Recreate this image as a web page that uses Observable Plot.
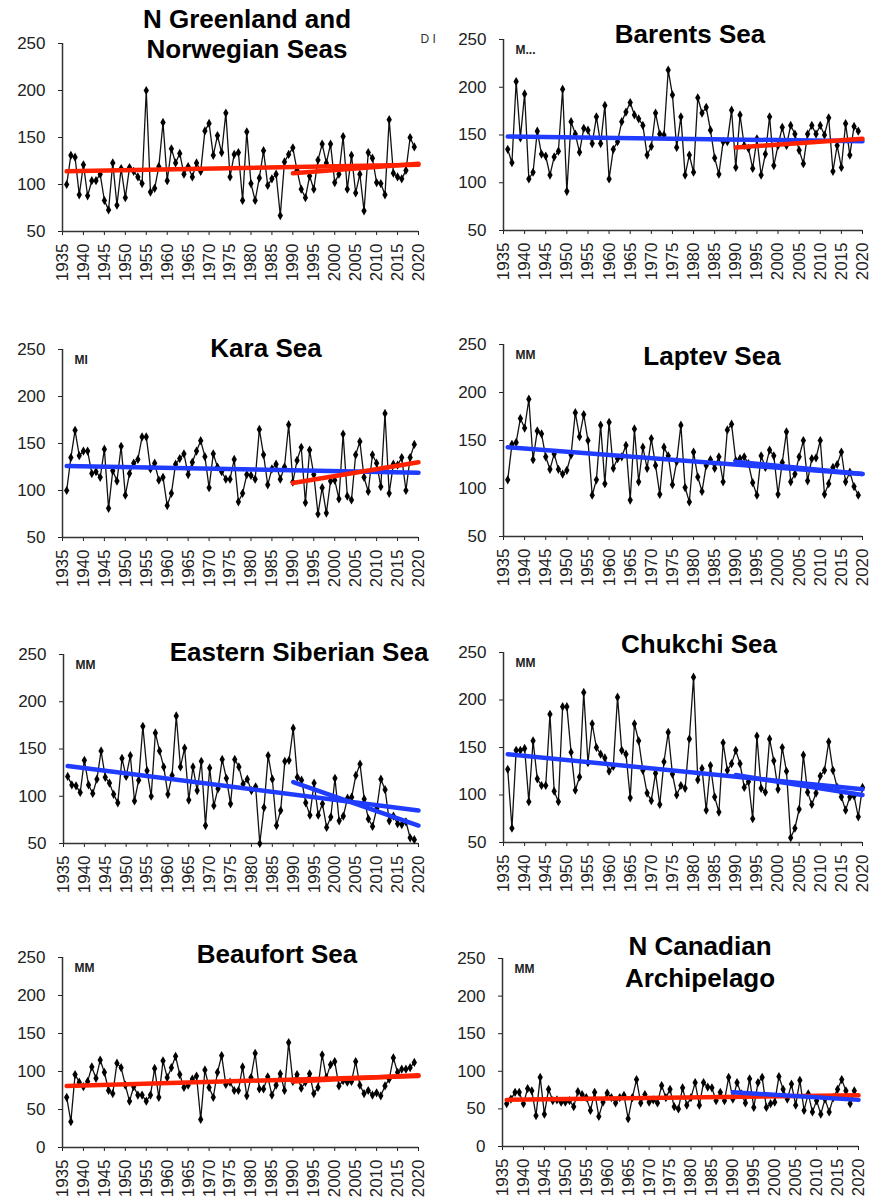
<!DOCTYPE html>
<html><head><meta charset="utf-8">
<script src="https://cdn.jsdelivr.net/npm/d3@7"></script>
<script src="https://cdn.jsdelivr.net/npm/@observablehq/plot@0.6"></script>
<style>
body{margin:0;background:#fff;width:871px;height:1200px;position:relative;overflow:hidden;font-family:Arial,"Liberation Sans",sans-serif}
.panel{position:absolute;width:435px;height:300px}
.panel svg{overflow:visible}
.title{position:absolute;width:440px;text-align:center;font-weight:bold;font-size:26px;color:#000;white-space:nowrap}
</style></head><body>
<script>
// ---------- data ----------
const startYear = 1936;
const xTickYears = [1935,1940,1945,1950,1955,1960,1965,1970,1975,1980,1985,1990,1995,2000,2005,2010,2015,2020];
const yTicks250 = [50,100,150,200,250];
const yTicks0 = [0,50,100,150,200,250];

const titles = [
  ["N Greenland and","Norwegian Seas"],
  ["Barents Sea"],
  ["Kara Sea"],
  ["Laptev Sea"],
  ["Eastern Siberian Sea"],
  ["Chukchi Sea"],
  ["Beaufort Sea"],
  ["N Canadian","Archipelago"]
];
const unitLabels = ["", "M...", "MI", "MM", "MM", "MM", "MM", "MM"];

const greenland = [100,131,129,89,121,88,104,104,111,83, 73,123,78,117,86,118,114,108,101,200,
  92,96,119,166,104,138,123,133,111,119, 108,123,114,157,165,131,152,134,176,108,
  132,134,83,156,101,83,107,136,99,106, 111,67,124,132,139,115,95,86,109,95,
  126,143,123,143,102,111,151,95,131,91, 111,72,134,128,102,101,89,169,112,108,
  106,115,150,140];
const barents = [135,121,206,147,193,104,111,154,130,128, 108,127,133,198,91,164,151,132,157,155,
  141,169,141,181,104,135,143,164,174,184, 171,167,160,129,138,173,151,150,218,192,
  137,169,108,129,111,189,173,179,155,126, 109,143,143,176,116,171,139,136,115,146,
  108,130,169,118,139,158,139,160,151,134, 120,151,160,151,160,150,168,112,139,116,
  162,129,159,154];
const kara = [100,135,164,137,142,142,118,120,114,144, 81,121,110,147,95,118,129,133,157,157,
  123,129,111,114,84,97,128,134,139,117, 130,142,153,136,103,139,125,120,112,112,
  133,88,97,117,116,112,165,138,106,123, 128,112,125,170,109,132,146,87,143,117,
  75,103,76,110,111,91,160,94,90,138, 152,114,99,138,129,104,182,97,128,127,
  135,100,135,149];
const laptev = [109,146,148,173,163,193,130,160,157,133, 120,136,120,115,119,135,179,154,177,150,
  93,109,166,105,169,121,131,133,145,88, 162,107,143,121,152,124,94,143,134,104,
  128,166,101,86,138,112,97,124,130,121, 133,107,161,167,129,131,133,126,106,93,
  134,122,140,134,94,127,159,107,115,133, 150,108,131,132,150,94,105,122,125,138,
  107,117,102,93];
const eSiberian = [121,112,111,104,138,112,103,118,148,120, 114,102,93,140,121,143,95,117,174,127,
  100,167,148,131,102,122,185,131,151,96, 131,106,137,69,130,90,108,139,119,92,
  139,131,113,118,106,110,50,88,143,118, 69,85,137,138,172,120,117,93,80,114,
  80,92,67,78,119,74,79,98,99,122, 134,97,76,68,87,118,107,74,79,71,
  70,73,56,54];
const chukchi = [127,65,147,147,149,93,157,117,110,110, 185,104,93,193,193,145,105,119,208,134,
  175,150,143,139,125,130,203,147,143,97, 175,157,126,102,94,123,90,135,166,122,
  100,110,107,159,224,116,128,84,131,98, 82,155,126,133,147,133,108,114,75,162,
  107,103,159,136,106,150,125,55,65,85, 142,103,90,102,120,126,156,126,108,98,
  84,98,99,77,108];
const beaufort = [66,34,96,86,80,87,106,91,115,99, 75,71,111,105,82,61,80,69,69,61,
  69,104,66,114,92,105,120,96,79,82, 90,94,37,102,79,66,99,121,83,86,
  75,75,106,68,92,124,77,77,93,69, 82,97,75,138,
  87,96,78,86,97,71,79,122,92,109, 113,81,88,86,87,113,82,71,75,69,
  72,68,81,90,118,99,103,103,105,112];
const nCanadian = [57,63,72,72,57,77,74,41,92,43, 76,61,62,59,59,61,53,73,69,65,
  48,72,40,59,71,65,58,65,68,37, 65,89,58,69,59,62,58,81,65,76,
  53,50,78,55,65,85,55,85,79,78, 61,72,61,92,63,85,70,58,90,52,
  85,92,52,57,59,93,76,63,83,55, 88,48,70,46,61,43,63,46,65,76,
  89,74,57,74];

// linear trends: [startYear, startValue, endYear, endValue]
const trendGreenland = [[1936,114,2020,121],[1990,112,2020,122]];
const trendBarents   = [[1936,148.5,2020,143.5],[1990,137,2020,146]];
const trendKara      = [[1936,126,2020,119],[1990,108,2020,130]];
const trendLaptev    = [[1936,143,2020,115],[1990,128,2020,115]];
const trendESiberian = [[1936,132,2020,85],[1990,115,2020,69]];
const trendChukchi   = [[1936,143,2020,106],[1990,121,2020,100]];
const trendBeaufort  = [[1936,81,2020,94],[1990,87,2020,95]];
const trendNCanadian = [[1936,62,2020,68],[1990,72,2020,62]];

const series = [greenland, barents, kara, laptev, eSiberian, chukchi, beaufort, nCanadian];
const trends = [trendGreenland, trendBarents, trendKara, trendLaptev, trendESiberian, trendChukchi, trendBeaufort, trendNCanadian];
const yDomains = [[50,250],[50,250],[50,250],[50,250],[50,250],[50,250],[0,250],[0,250]];
const yTickSets = [yTicks250,yTicks250,yTicks250,yTicks250,yTicks250,yTicks250,yTicks0,yTicks0];

// ---------- layout ----------
const layout = [
  {left:0,   top:0,   ml:62, mr:17, mt:43, mb:69, tx:247, ty:4,   lh:30},
  {left:435, top:0,   ml:68, mr:8,  mt:39, mb:70, tx:690, ty:21,  lh:26},
  {left:0,   top:300, ml:62, mr:17, mt:49, mb:63, tx:266, ty:335, lh:26},
  {left:435, top:300, ml:68, mr:8,  mt:44, mb:64, tx:712, ty:343, lh:26},
  {left:0,   top:600, ml:63, mr:17, mt:54, mb:57, tx:299, ty:639, lh:26},
  {left:435, top:600, ml:68, mr:8,  mt:52, mb:58, tx:699, ty:631, lh:26},
  {left:0,   top:900, ml:62, mr:17, mt:57, mb:53, tx:277, ty:941, lh:26},
  {left:435, top:900, ml:67, mr:12, mt:58, mb:54, tx:700, ty:930, lh:32}
];

const FONT = 'Arial, "Liberation Sans", sans-serif';
const RED = "#ff2200", BLUE = "#1f3cff";

series.forEach((vals, i) => {
  const L = layout[i];
  const data = vals.map((v, k) => ({year: startYear + k, value: v}));
  const tr = trends[i].map(t => ({x1: t[0], y1: t[1], x2: t[2], y2: t[3]}));
  const yd = yDomains[i];
  const marks = [
    Plot.axisY({ticks: yTickSets[i], tickSize: 4, tickPadding: 13, fontSize: 17, color: "#222", label: null}),
    Plot.axisX({ticks: xTickYears, tickFormat: d => String(d), tickRotate: -90, tickSize: 4, tickPadding: 8, fontSize: 17, color: "#222", label: null}),
    Plot.ruleX([1935], {stroke: "#333", strokeWidth: 1.5}),
    Plot.ruleY([yd[0]], {stroke: "#333", strokeWidth: 1.5}),
    Plot.line(data, {x: "year", y: "value", stroke: "#111", strokeWidth: 1.3}),
    Plot.dot(data, {x: "year", y: "value", r: 2.8, symbol: "diamond", fill: "#000"}),
    Plot.link(tr, {x1: "x1", y1: "y1", x2: "x2", y2: "y2", stroke: d => d.y2 > d.y1 ? RED : BLUE, strokeWidth: 4.5, strokeLinecap: "round"})
  ];
  if (unitLabels[i]) marks.push(Plot.text([unitLabels[i]], {text: d => d, frameAnchor: "top-left", dx: 12, dy: 6, fontSize: 12, fill: "#222", fontWeight: "bold"}));
  if (i === 0) marks.push(Plot.text(["D I"], {text: d => d, frameAnchor: "top-right", textAnchor: "start", lineAnchor: "top", dx: 2, dy: -9, fontSize: 12, fill: "#333"}));

  const chart = Plot.plot({
    width: 435, height: 300,
    marginLeft: L.ml, marginRight: L.mr, marginTop: L.mt, marginBottom: L.mb,
    style: {fontFamily: FONT, background: "transparent", color: "#222"},
    x: {domain: [1935, 2020]},
    y: {domain: yd},
    color: {type: "identity"},
    marks
  });
  const div = document.createElement("div");
  div.className = "panel";
  div.style.left = L.left + "px";
  div.style.top = L.top + "px";
  div.appendChild(chart);
  document.body.appendChild(div);

  const t = document.createElement("div");
  t.className = "title";
  t.style.left = (L.tx - 220) + "px";
  t.style.top = L.ty + "px";
  t.style.lineHeight = L.lh + "px";
  t.innerHTML = titles[i].join("<br>");
  document.body.appendChild(t);
});
</script>
</body></html>
